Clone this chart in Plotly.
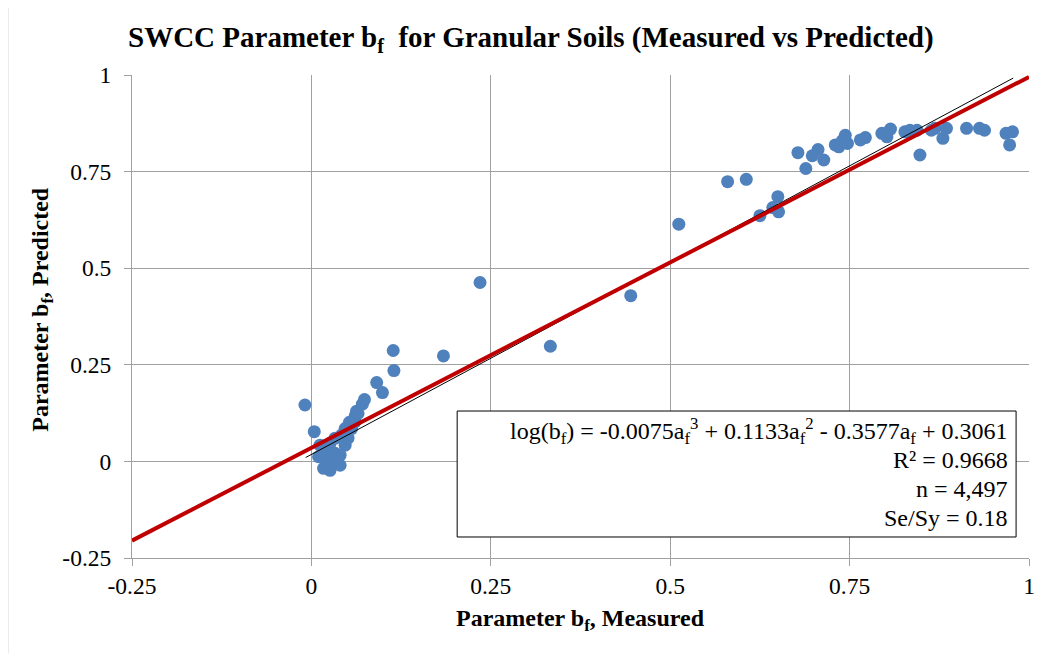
import plotly.graph_objects as go

# Measured (x) and predicted (y) values of SWCC parameter b_f
measured = [
    -0.009, 0.004, 0.012, 0.019, 0.014, 0.010, 0.024, 0.028, 0.026, 0.037,
    0.040, 0.033, 0.040, 0.030, 0.026, 0.033, 0.042, 0.047, 0.044, 0.051,
    0.047, 0.056, 0.053, 0.061, 0.061, 0.063, 0.065, 0.071, 0.074, 0.091,
    0.099, 0.115, 0.114, 0.017, 0.021, 0.036,
    0.184, 0.235, 0.333, 0.445, 0.512,
    0.580, 0.606, 0.625, 0.643, 0.650, 0.651, 0.678, 0.689, 0.698, 0.706,
    0.714, 0.730, 0.735, 0.744, 0.747, 0.740, 0.765, 0.772, 0.795, 0.802,
    0.807, 0.827, 0.834, 0.844, 0.848, 0.864, 0.869, 0.880, 0.885, 0.913,
    0.931, 0.938, 0.968, 0.973, 0.977,
]
predicted = [
    0.146, 0.077, 0.042, 0.029, 0.012, 0.012, -0.001, -0.010, -0.023, -0.005,
    -0.010, 0.021, 0.016, 0.016, 0.047, 0.060, 0.068, 0.042, 0.060, 0.060,
    0.085, 0.085, 0.101, 0.103, 0.118, 0.130, 0.124, 0.148, 0.160, 0.204,
    0.178, 0.235, 0.287, -0.018, -0.013, 0.010,
    0.273, 0.463, 0.298, 0.429, 0.614,
    0.724, 0.730, 0.636, 0.657, 0.685, 0.646, 0.799, 0.758, 0.791, 0.807,
    0.780, 0.819, 0.814, 0.844, 0.823, 0.830, 0.832, 0.838, 0.849, 0.840,
    0.860, 0.853, 0.857, 0.857, 0.793, 0.857, 0.862, 0.836, 0.862, 0.862,
    0.862, 0.857, 0.849, 0.819, 0.853,
]

# Linear trendline (red) coefficients and its x extent
trend_slope = 0.96
trend_intercept = 0.035
trend_x = [-0.25, 1.0]

# Thin black reference line
ref_x = [-0.008, 0.978]
ref_y = [0.010, 0.992]

tick_vals = [-0.25, 0, 0.25, 0.5, 0.75, 1]
tick_text = ["-0.25", "0", "0.25", "0.5", "0.75", "1"]

eq_lines = [
    "log(b<sub>f</sub>) = -0.0075a<sub>f</sub><sup>3</sup> + 0.1133a<sub>f</sub><sup>2</sup> - 0.3577a<sub>f</sub> + 0.3061",
    "R² = 0.9668",
    "n = 4,497",
    "Se/Sy = 0.18",
]

FONT = "Liberation Serif, Times New Roman, serif"
GRID = "#A0A0A0"

fig = go.Figure()

fig.add_trace(go.Scatter(
    x=measured, y=predicted, mode="markers",
    marker=dict(size=13, color="#4F81BD", line=dict(width=0)),
    showlegend=False,
))

fig.add_trace(go.Scatter(
    x=ref_x, y=ref_y, mode="lines",
    line=dict(color="black", width=1), showlegend=False,
))

fig.add_trace(go.Scatter(
    x=trend_x, y=[trend_slope * v + trend_intercept for v in trend_x],
    mode="lines", line=dict(color="#C00000", width=4), showlegend=False,
))

axis_common = dict(
    range=[-0.25, 1], tickvals=tick_vals, ticktext=tick_text,
    showgrid=True, gridcolor=GRID, gridwidth=1,
    showline=True, linecolor=GRID, linewidth=1,
    ticks="outside", ticklen=7, tickcolor=GRID,
    zeroline=False, tickfont=dict(family=FONT, size=23.5, color="black"),
)

fig.update_layout(
    width=1039, height=645, autosize=False,
    margin=dict(l=124, r=13, t=67, b=95),
    paper_bgcolor="white", plot_bgcolor="white",
    xaxis=dict(axis_common, ticklabelstandoff=0),
    yaxis=dict(axis_common, ticklabelstandoff=8),
    title=dict(
        text="<b>SWCC Parameter b<sub>f</sub>  for Granular Soils (Measured vs Predicted)</b>",
        font=dict(family=FONT, size=29, color="black"),
        x=0.4446, xref="paper", xanchor="center",
        y=1 - 29 / 645, yref="container", yanchor="middle",
    ),
)

# outer chart border
fig.add_shape(type="rect", xref="paper", yref="paper",
              x0=-0.1386, x1=1.03, y0=-0.21, y1=1.149,
              line=dict(color="#888888", width=1), layer="below")

# equation box
fig.add_shape(type="rect", xref="paper", yref="paper",
              x0=0.3625, x1=0.9856, y0=0.0435, y1=0.3043,
              line=dict(color="black", width=1), fillcolor="white", layer="above")

eq_y = [0.263, 0.202, 0.142, 0.083]
for txt, yy in zip(eq_lines, eq_y):
    fig.add_annotation(text=txt, xref="paper", yref="paper", x=0.979, y=yy,
                       xanchor="right", yanchor="middle", showarrow=False,
                       font=dict(family=FONT, size=24, color="black"))

fig.add_annotation(text="<b>Parameter b<sub>f</sub>, Measured</b>", xref="paper", yref="paper",
                   x=0.5, y=-0.128, xanchor="center", yanchor="middle", showarrow=False,
                   font=dict(family=FONT, size=24, color="black"))
fig.add_annotation(text="<b>Parameter b<sub>f</sub>, Predicted</b>", xref="paper", yref="paper",
                   x=-0.0998, y=0.515, xanchor="center", yanchor="middle", showarrow=False,
                   textangle=-90, font=dict(family=FONT, size=24, color="black"))

fig.write_html("out.html")
